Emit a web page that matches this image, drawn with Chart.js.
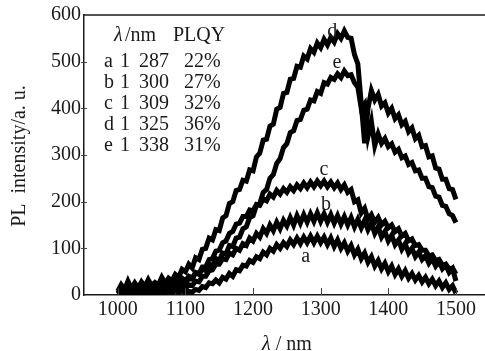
<!DOCTYPE html>
<html>
<head>
<meta charset="utf-8">
<script src="https://cdn.jsdelivr.net/npm/chart.js@4/dist/chart.umd.min.js"></script>
<style>
  html, body { margin: 0; padding: 0; background: #fff; }
  canvas { display: block; }
</style>
</head>
<body>
<canvas id="pl-chart" width="485" height="351"></canvas>
<script>
'use strict';

// wavelength grid (nm)
let wavelength = [
  1000, 1005, 1010, 1015, 1020, 1025, 1030, 1035, 1040, 1045,
  1050, 1055, 1060, 1065, 1070, 1075, 1080, 1085, 1090, 1095,
  1100, 1105, 1110, 1115, 1120, 1125, 1130, 1135, 1140, 1145,
  1150, 1155, 1160, 1165, 1170, 1175, 1180, 1185, 1190, 1195,
  1200, 1205, 1210, 1215, 1220, 1225, 1230, 1235, 1240, 1245,
  1250, 1255, 1260, 1265, 1270, 1275, 1280, 1285, 1290, 1295,
  1300, 1305, 1310, 1315, 1320, 1325, 1330, 1335, 1340, 1345,
  1350, 1355, 1360, 1365, 1370, 1375, 1380, 1385, 1390, 1395,
  1400, 1405, 1410, 1415, 1420, 1425, 1430, 1435, 1440, 1445,
  1450, 1455, 1460, 1465, 1470, 1475, 1480, 1485, 1490, 1495,
  1500
];

// PL intensity (a. u.)
let curveA = [
  0, 4, 1, 5, 2, 5, 2, 6, 3, 6,
  3, 7, 4, 7, 4, 8, 5, 9, 6, 9,
  5, 8, 6, 12, 10, 18, 16, 26, 24, 32,
  26, 38, 34, 46, 40, 54, 52, 64, 62, 74,
  70, 82, 78, 92, 86, 100, 94, 108, 100, 112,
  104, 118, 108, 122, 110, 124, 112, 126, 112, 126,
  112, 124, 108, 122, 104, 118, 100, 112, 94, 106,
  86, 98, 78, 90, 70, 82, 62, 74, 56, 68,
  50, 62, 44, 56, 40, 52, 36, 46, 32, 42,
  28, 38, 24, 34, 20, 30, 16, 26, 12, 20,
  4
];
let curveB = [
  1, 6, 3, 8, 4, 7, 5, 9, 6, 10,
  7, 11, 8, 12, 9, 14, 10, 16, 12, 18,
  14, 22, 20, 30, 28, 40, 40, 52, 54, 66,
  66, 78, 76, 90, 86, 100, 96, 110, 106, 122,
  116, 132, 124, 142, 132, 150, 138, 156, 142, 160,
  148, 166, 150, 170, 154, 172, 156, 174, 158, 176,
  158, 174, 156, 172, 154, 170, 152, 168, 150, 166,
  146, 162, 144, 160, 140, 154, 132, 146, 124, 136,
  116, 128, 108, 118, 98, 110, 90, 100, 82, 92,
  76, 84, 68, 78, 62, 72, 56, 64, 48, 56,
  30
];
let curveC = [
  2, 8, 4, 10, 5, 9, 6, 12, 7, 11,
  8, 14, 9, 15, 11, 18, 14, 22, 18, 28,
  25, 36, 34, 48, 46, 60, 60, 76, 78, 94,
  96, 112, 116, 132, 136, 152, 154, 168, 168, 182,
  180, 194, 192, 206, 202, 216, 210, 224, 216, 228,
  220, 232, 224, 236, 228, 240, 230, 242, 232, 244,
  234, 244, 232, 242, 230, 240, 226, 236, 220, 226,
  200, 204, 176, 186, 162, 172, 156, 166, 150, 158,
  144, 150, 136, 142, 126, 132, 116, 120, 106, 108,
  96, 96, 84, 86, 74, 76, 64, 66, 56, 58,
  45
];
let curveD = [
  8, 22, 12, 30, 14, 26, 15, 28, 18, 33,
  20, 27, 22, 38, 25, 36, 30, 44, 38, 55,
  50, 66, 58, 80, 76, 98, 100, 122, 118, 140,
  138, 165, 170, 196, 200, 224, 226, 246, 244, 268,
  266, 296, 304, 332, 334, 362, 366, 398, 402, 432,
  434, 462, 464, 490, 488, 512, 506, 528, 520, 540,
  530, 548, 536, 552, 542, 560, 550, 566, 552, 550,
  515, 495, 410, 325, 400, 438, 418, 430, 405, 412,
  390, 400, 378, 386, 365, 372, 350, 358, 335, 342,
  318, 320, 296, 298, 272, 270, 248, 248, 228, 226,
  205
];
let curveE = [
  4, 14, 8, 18, 10, 16, 12, 22, 14, 20,
  16, 24, 18, 26, 20, 30, 24, 32, 28, 36,
  30, 40, 36, 48, 44, 56, 52, 66, 62, 78,
  74, 90, 88, 106, 104, 122, 124, 142, 146, 166,
  170, 192, 196, 220, 226, 250, 258, 282, 292, 316,
  324, 348, 352, 374, 376, 396, 398, 418, 416, 436,
  432, 455, 452, 466, 462, 474, 466, 480, 470, 472,
  455, 445, 400, 410, 340, 372, 320, 345, 325, 335,
  318, 324, 306, 312, 294, 298, 280, 284, 266, 268,
  250, 250, 232, 230, 212, 210, 192, 190, 174, 170,
  155
];

let xTicks = [1000, 1100, 1200, 1300, 1400, 1500];
let yTicks = [0, 100, 200, 300, 400, 500, 600];

// curve letters and where they sit (nm, a. u.)
let curveNames = ['a', 'b', 'c', 'd', 'e'];
let nameX = [1278, 1308, 1305, 1317, 1324];
let nameY = [71, 182, 257, 553, 486];

// inset table
let tableLetter = ['a', 'b', 'c', 'd', 'e'];
let tablePeak = ['287', '300', '309', '325', '338'];
let tablePLQY = ['22%', '27%', '32%', '36%', '31%'];

const serif = '"Liberation Serif", "DejaVu Serif", serif';
const ink = '#1a1a1a';

function points(values) {
  let list = [];
  for (let i = 0; i < wavelength.length; i++) {
    list.push({ x: wavelength[i], y: values[i] });
  }
  return list;
}

function curve(label, values) {
  return {
    label: label,
    data: points(values),
    borderColor: '#000',
    borderWidth: 5,
    borderJoinStyle: 'miter',
    pointRadius: 0,
    tension: 0,
    fill: false
  };
}

// frame top line, inside ticks, labels and inset table
const decorations = {
  id: 'decorations',
  afterDatasetsDraw(chart) {
    const ctx = chart.ctx;
    const area = chart.chartArea;
    const x = chart.scales.x;
    const y = chart.scales.y;
    ctx.save();

    ctx.strokeStyle = ink;
    ctx.lineWidth = 1.5;
    ctx.beginPath();
    ctx.moveTo(area.left, area.top);
    ctx.lineTo(chart.width, area.top);
    ctx.stroke();

    ctx.lineWidth = 1;
    ctx.strokeStyle = '#444';
    for (let i = 0; i < xTicks.length; i++) {
      let px = Math.round(x.getPixelForValue(xTicks[i])) + 0.5;
      ctx.beginPath();
      ctx.moveTo(px, area.bottom);
      ctx.lineTo(px, area.bottom - 7);
      ctx.stroke();
    }
    for (let i = 1; i < yTicks.length - 1; i++) {
      let py = Math.round(y.getPixelForValue(yTicks[i])) + 0.5;
      ctx.beginPath();
      ctx.moveTo(area.left - 3, py);
      ctx.lineTo(area.left + 3, py);
      ctx.stroke();
    }

    ctx.fillStyle = ink;
    ctx.font = '20px ' + serif;
    ctx.textAlign = 'center';
    ctx.textBaseline = 'alphabetic';
    for (let i = 0; i < curveNames.length; i++) {
      ctx.fillText(curveNames[i], x.getPixelForValue(nameX[i]), y.getPixelForValue(nameY[i]));
    }

    // inset table
    ctx.textAlign = 'left';
    ctx.font = 'italic 20px ' + serif;
    ctx.fillText('\u03bb', 114, 41);
    ctx.font = '20px ' + serif;
    ctx.fillText('/nm', 125, 41);
    ctx.fillText('PLQY', 173, 41);
    for (let i = 0; i < tableLetter.length; i++) {
      let base = 67 + i * 21;
      ctx.fillText(tableLetter[i], 104, base);
      ctx.fillText('1', 120, base);
      ctx.fillText(tablePeak[i], 139, base);
      ctx.fillText(tablePLQY[i], 184, base);
    }

    // axis titles
    ctx.font = 'italic 20px ' + serif;
    let w1 = ctx.measureText('\u03bb').width;
    ctx.font = '20px ' + serif;
    let w2 = ctx.measureText(' / nm').width;
    let start = 287 - (w1 + w2) / 2;
    ctx.font = 'italic 20px ' + serif;
    ctx.fillText('\u03bb', start, 350);
    ctx.font = '20px ' + serif;
    ctx.fillText(' / nm', start + w1, 350);

    ctx.translate(25, 156);
    ctx.rotate(-Math.PI / 2);
    ctx.textAlign = 'center';
    ctx.fillText('PL  intensity/a. u.', 0, 0);

    ctx.restore();
  }
};

const ctx = document.getElementById('pl-chart');
const plChart = new Chart(ctx, {
  type: 'line',
  data: {
    datasets: [
      curve('a', curveA),
      curve('b', curveB),
      curve('c', curveC),
      curve('d', curveD),
      curve('e', curveE)
    ]
  },
  options: {
    responsive: false,
    animation: false,
    devicePixelRatio: 1,
    layout: { padding: { top: 15, right: 0, left: 0, bottom: 0 } },
    plugins: {
      legend: { display: false },
      tooltip: { enabled: false }
    },
    scales: {
      x: {
        type: 'linear',
        min: 950,
        max: 1543,
        afterBuildTicks: function (scale) {
          scale.ticks = xTicks.map(v => ({ value: v }));
        },
        afterFit: function (scale) {
          scale.height = 56;
        },
        grid: { display: false, drawTicks: false },
        border: { display: true, color: ink, width: 1.5 },
        ticks: {
          color: ink,
          padding: 3,
          maxRotation: 0,
          font: { family: serif, size: 20 },
          callback: function (value) {
            return String(value);
          }
        }
      },
      y: {
        min: 0,
        max: 600,
        afterBuildTicks: function (scale) {
          scale.ticks = yTicks.map(v => ({ value: v }));
        },
        afterFit: function (scale) {
          scale.width = 84;
        },
        grid: { display: false, drawTicks: false },
        border: { display: true, color: ink, width: 1.5 },
        ticks: {
          color: ink,
          padding: 3,
          font: { family: serif, size: 20 }
        }
      }
    }
  },
  plugins: [decorations]
});
</script>
</body>
</html>
